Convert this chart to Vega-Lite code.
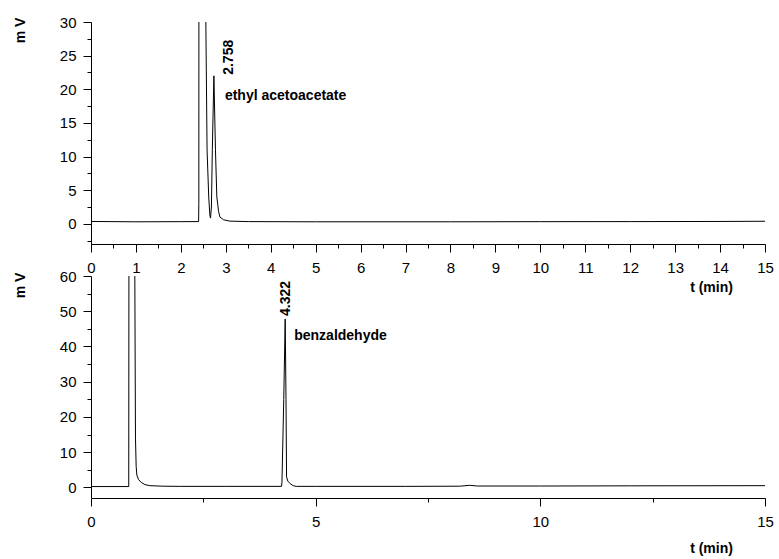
{
  "$schema": "https://vega.github.io/schema/vega-lite/v6.json",
  "padding": {"left": 13, "top": 15, "right": 5, "bottom": 5},
  "background": "white",
  "config": {
    "view": {"stroke": null},
    "font": "Liberation Sans",
    "axis": {
      "domainColor": "black",
      "tickColor": "black",
      "labelColor": "black",
      "titleColor": "black",
      "labelFont": "Liberation Sans",
      "labelFontSize": 15,
      "titleFont": "Liberation Sans",
      "titleFontSize": 14,
      "titleFontWeight": "bold",
      "grid": false,
      "labelOverlap": false,
      "labelFlush": false,
      "tickSize": 5,
      "tickCount": 100,
      "format": "~g"
    }
  },
  "datasets": {
    "topLine": [
      {"t": 0, "mv": 0.35}, {"t": 1, "mv": 0.3}, {"t": 2, "mv": 0.32}, {"t": 2.395, "mv": 0.33},
      {"t": 2.4, "mv": 3}, {"t": 2.405, "mv": 100}, {"t": 2.48, "mv": 400}, {"t": 2.553, "mv": 32},
      {"t": 2.583, "mv": 11}, {"t": 2.62, "mv": 4}, {"t": 2.645, "mv": 1.3}, {"t": 2.66, "mv": 0.85},
      {"t": 2.68, "mv": 2.5}, {"t": 2.7, "mv": 11}, {"t": 2.735, "mv": 22}, {"t": 2.77, "mv": 11},
      {"t": 2.8, "mv": 4}, {"t": 2.84, "mv": 1.8}, {"t": 2.87, "mv": 1.0}, {"t": 2.95, "mv": 0.6},
      {"t": 3.09, "mv": 0.4}, {"t": 3.5, "mv": 0.33}, {"t": 5, "mv": 0.3}, {"t": 8, "mv": 0.3},
      {"t": 10, "mv": 0.32}, {"t": 12, "mv": 0.33}, {"t": 14, "mv": 0.35}, {"t": 15, "mv": 0.38}
    ],
    "bottomLine": [
      {"t": 0, "mv": 0.25}, {"t": 0.84, "mv": 0.25}, {"t": 0.846, "mv": 100}, {"t": 0.92, "mv": 400},
      {"t": 0.972, "mv": 70}, {"t": 0.99, "mv": 14}, {"t": 1.005, "mv": 6}, {"t": 1.02, "mv": 3.5},
      {"t": 1.06, "mv": 2.2}, {"t": 1.12, "mv": 1.4}, {"t": 1.2, "mv": 0.8}, {"t": 1.31, "mv": 0.5},
      {"t": 1.6, "mv": 0.35}, {"t": 2, "mv": 0.3}, {"t": 3, "mv": 0.3}, {"t": 4.24, "mv": 0.3},
      {"t": 4.25, "mv": 1.5}, {"t": 4.29, "mv": 25}, {"t": 4.322, "mv": 47.8}, {"t": 4.34, "mv": 25},
      {"t": 4.352, "mv": 3}, {"t": 4.38, "mv": 1.8}, {"t": 4.43, "mv": 1.1}, {"t": 4.5, "mv": 0.5},
      {"t": 4.57, "mv": 0.3}, {"t": 5, "mv": 0.3}, {"t": 7, "mv": 0.3}, {"t": 8.2, "mv": 0.35},
      {"t": 8.43, "mv": 0.6}, {"t": 8.6, "mv": 0.4}, {"t": 10, "mv": 0.4}, {"t": 12, "mv": 0.45},
      {"t": 15, "mv": 0.5}
    ],
    "topNotes": [{"t": 2.758, "mv": 22, "rt": "2.758", "name": "ethyl acetoacetate"}],
    "bottomNotes": [{"t": 4.322, "mv": 47.8, "rt": "4.322", "name": "benzaldehyde"}]
  },
  "vconcat": [
    {
      "width": 674,
      "height": 222,
      "layer": [
        {
          "data": {"name": "topLine"},
          "mark": {"type": "line", "color": "black", "strokeWidth": 1, "clip": true},
          "encoding": {
            "x": {
              "field": "t", "type": "quantitative",
              "scale": {"domain": [0, 15], "nice": false, "zero": false},
              "axis": {
                "values": [0,0.5,1,1.5,2,2.5,3,3.5,4,4.5,5,5.5,6,6.5,7,7.5,8,8.5,9,9.5,10,10.5,11,11.5,12,12.5,13,13.5,14,14.5,15],
                "tickCount": 100,
                "format": "~g",
                "labelExpr": "datum.value % 1 === 0 ? datum.label : ''",
                "tickSize": {"condition": {"test": "datum.value % 1 === 0", "value": 8}, "value": 4},
                "labelPadding": 8,
                "title": "t (min)",
                "titleX": 620, "titleY": 43, "titleAlign": "center", "titleBaseline": "middle", "titleAnchor": null
              }
            },
            "y": {
              "field": "mv", "type": "quantitative",
              "scale": {"domain": [-3, 30], "nice": false, "zero": false},
              "axis": {
                "values": [-2.5,0,2.5,5,7.5,10,12.5,15,17.5,20,22.5,25,27.5,30],
                "tickCount": 100,
                "format": "~g",
                "labelExpr": "datum.value % 5 === 0 ? datum.label : ''",
                "tickSize": {"condition": {"test": "datum.value % 5 === 0", "value": 8}, "value": 4},
                "labelPadding": 7,
                "title": "m V",
                "titleX": -71, "titleY": 8, "titleAngle": -90, "titleAlign": "center", "titleBaseline": "middle"
              }
            }
          }
        },
        {
          "data": {"name": "topNotes"},
          "mark": {"type": "text", "angle": 270, "align": "left", "baseline": "middle", "dx": 1, "dy": 14, "font": "Liberation Sans", "fontWeight": "bold", "fontSize": 14, "color": "black"},
          "encoding": {
            "x": {"field": "t", "type": "quantitative"},
            "y": {"field": "mv", "type": "quantitative"},
            "text": {"field": "rt"}
          }
        },
        {
          "data": {"name": "topNotes"},
          "mark": {"type": "text", "align": "left", "baseline": "middle", "dx": 10, "dy": 20, "font": "Liberation Sans", "fontWeight": "bold", "fontSize": 14, "color": "black"},
          "encoding": {
            "x": {"field": "t", "type": "quantitative"},
            "y": {"field": "mv", "type": "quantitative"},
            "text": {"field": "name"}
          }
        }
      ]
    },
    {
      "width": 674,
      "height": 222,
      "layer": [
        {
          "data": {"name": "bottomLine"},
          "mark": {"type": "line", "color": "black", "strokeWidth": 1, "clip": true},
          "encoding": {
            "x": {
              "field": "t", "type": "quantitative",
              "scale": {"domain": [0, 15], "nice": false, "zero": false},
              "axis": {
                "values": [0, 2.5, 5, 7.5, 10, 12.5, 15],
                "tickCount": 100,
                "format": "~g",
                "labelExpr": "datum.value % 5 === 0 ? datum.label : ''",
                "tickSize": {"condition": {"test": "datum.value % 5 === 0", "value": 8}, "value": 4},
                "labelPadding": 8,
                "title": "t (min)",
                "titleX": 620, "titleY": 50, "titleAlign": "center", "titleBaseline": "middle", "titleAnchor": null
              }
            },
            "y": {
              "field": "mv", "type": "quantitative",
              "scale": {"domain": [-3, 60], "nice": false, "zero": false},
              "axis": {
                "values": [0,5,10,15,20,25,30,35,40,45,50,55,60],
                "tickCount": 100,
                "format": "~g",
                "labelExpr": "datum.value % 10 === 0 ? datum.label : ''",
                "tickSize": {"condition": {"test": "datum.value % 10 === 0", "value": 8}, "value": 4},
                "labelPadding": 7,
                "title": "m V",
                "titleX": -71, "titleY": 9, "titleAngle": -90, "titleAlign": "center", "titleBaseline": "middle"
              }
            }
          }
        },
        {
          "data": {"name": "bottomNotes"},
          "mark": {"type": "text", "angle": 270, "align": "left", "baseline": "middle", "dx": 3, "dy": 1, "font": "Liberation Sans", "fontWeight": "bold", "fontSize": 14, "color": "black"},
          "encoding": {
            "x": {"field": "t", "type": "quantitative"},
            "y": {"field": "mv", "type": "quantitative"},
            "text": {"field": "rt"}
          }
        },
        {
          "data": {"name": "bottomNotes"},
          "mark": {"type": "text", "align": "left", "baseline": "middle", "dx": 9, "dy": 17, "font": "Liberation Sans", "fontWeight": "bold", "fontSize": 14, "color": "black"},
          "encoding": {
            "x": {"field": "t", "type": "quantitative"},
            "y": {"field": "mv", "type": "quantitative"},
            "text": {"field": "name"}
          }
        }
      ]
    }
  ],
  "spacing": 32,
  "bounds": "flush"
}
